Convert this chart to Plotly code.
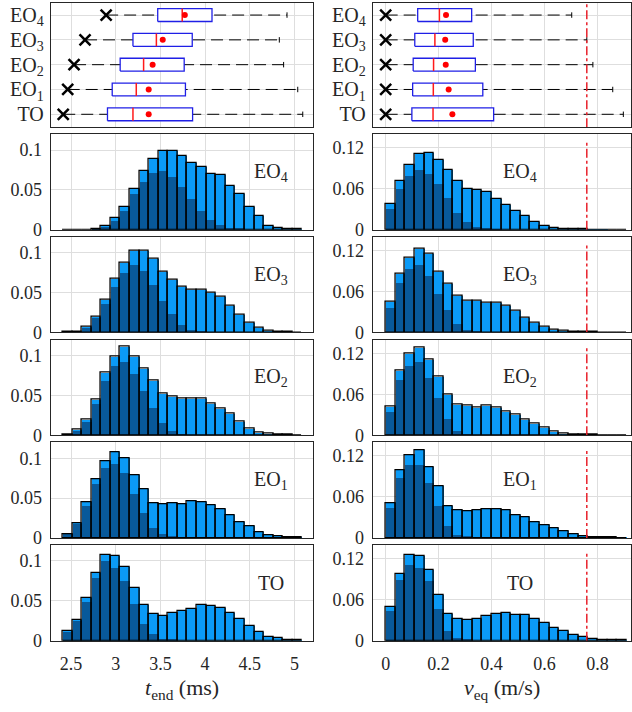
import numpy as np
import plotly.graph_objects as go

# ---------------- data ----------------
group_names = ["TO", "EO<sub>1</sub>", "EO<sub>2</sub>", "EO<sub>3</sub>", "EO<sub>4</sub>"]

# histogram bins (25 bins each)
t_bin_start, t_bin_width = 2.407, 0.1071   # ms
v_bin_start, v_bin_width = 0.0, 0.0364     # m/s

# t_end histograms: total (light) and subset (dark), normalised frequencies
t_total_TO = [0.0119, 0.026, 0.054, 0.085, 0.107, 0.106, 0.092, 0.066, 0.0447, 0.034, 0.031, 0.035, 0.037,
              0.040, 0.0447, 0.0439, 0.0406, 0.035, 0.0275, 0.018, 0.0107, 0.0049, 0.0029, 0.0012, 0.0008]
t_part_TO = [0.011, 0.025, 0.049, 0.079, 0.0996, 0.091, 0.075, 0.046, 0.021, 0.008, 0.0025, 0.001, 0,
             0, 0, 0, 0, 0, 0, 0, 0, 0, 0, 0, 0]
t_total_EO1 = [0.0049, 0.019, 0.0443, 0.073, 0.096, 0.108, 0.100, 0.0785, 0.061, 0.0435, 0.042, 0.044, 0.042,
               0.0455, 0.0447, 0.0407, 0.0358, 0.0285, 0.0195, 0.0146, 0.0069, 0.0037, 0.0015, 0.0005, 0.0003]
t_part_EO1 = [0.004, 0.017, 0.040, 0.067, 0.088, 0.093, 0.081, 0.055, 0.031, 0.012, 0.004, 0.001, 0,
              0, 0, 0, 0, 0, 0, 0, 0, 0, 0, 0, 0]
t_total_EO2 = [0.001, 0.0074, 0.0193, 0.045, 0.078, 0.099, 0.111, 0.099, 0.084, 0.068, 0.052, 0.049, 0.0465,
               0.0465, 0.0465, 0.040, 0.034, 0.0276, 0.0169, 0.0082, 0.0037, 0.0016, 0.0006, 0.0003, 0.0001]
t_part_EO2 = [0.0008, 0.006, 0.0177, 0.040, 0.069, 0.087, 0.093, 0.077, 0.056, 0.035, 0.016, 0.006, 0.002,
              0, 0, 0, 0, 0, 0, 0, 0, 0, 0, 0, 0]
t_total_EO3 = [0.0002, 0.0005, 0.007, 0.020, 0.041, 0.0675, 0.0875, 0.103, 0.103, 0.092, 0.076, 0.066, 0.057,
               0.054, 0.054, 0.050, 0.045, 0.034, 0.022, 0.012, 0.0054, 0.002, 0.0008, 0.0003, 0.0001]
t_part_EO3 = [0.0001, 0.0004, 0.006, 0.018, 0.036, 0.0575, 0.075, 0.085, 0.077, 0.060, 0.040, 0.023, 0.0096,
              0.0038, 0.001, 0, 0, 0, 0, 0, 0, 0, 0, 0, 0]
t_total_EO4 = [0, 0, 0, 0.0002, 0.004, 0.014, 0.028, 0.051, 0.073, 0.089, 0.099, 0.099, 0.092,
               0.083, 0.078, 0.070, 0.068, 0.055, 0.045, 0.028, 0.017, 0.005, 0.0017, 0.0005, 0.0002]
t_part_EO4 = [0, 0, 0, 0.0001, 0.003, 0.011, 0.024, 0.045, 0.060, 0.071, 0.074, 0.066, 0.053,
              0.038, 0.023, 0.012, 0.006, 0.002, 0.001, 0, 0, 0, 0, 0, 0]

# v_eq histograms
v_total_TO = [0.0497, 0.098, 0.1248, 0.1243, 0.1028, 0.0669, 0.0392, 0.0311, 0.0296, 0.032, 0.0359, 0.0392, 0.0406,
              0.0382, 0.0382, 0.0311, 0.0263, 0.0191, 0.0134, 0.0081, 0.0048, 0.0029, 0.001, 0.0005, 0.0003]
v_part_TO = [0.0435, 0.0884, 0.1114, 0.1057, 0.0875, 0.0469, 0.0148, 0.0038, 0.001, 0, 0, 0, 0,
             0, 0, 0, 0, 0, 0, 0, 0, 0, 0, 0, 0]
v_total_EO1 = [0.050, 0.0984, 0.1205, 0.128, 0.104, 0.0754, 0.0466, 0.040, 0.039, 0.040, 0.0413, 0.0413, 0.040,
               0.0331, 0.0298, 0.0235, 0.0187, 0.0134, 0.0091, 0.0048, 0.0029, 0.0014, 0.0008, 0.0004, 0.0002]
v_part_EO1 = [0.0437, 0.0878, 0.106, 0.106, 0.080, 0.0466, 0.0168, 0.0043, 0.0015, 0.0005, 0, 0, 0,
              0, 0, 0, 0, 0, 0, 0, 0, 0, 0, 0, 0]
v_total_EO2 = [0.0426, 0.0944, 0.120, 0.129, 0.111, 0.0856, 0.059, 0.0445, 0.0435, 0.040, 0.043, 0.041, 0.0353,
               0.030, 0.0227, 0.0174, 0.0106, 0.0058, 0.0029, 0.0015, 0.0005, 0.0003, 0.0002, 0.0001, 0]
v_part_EO2 = [0.0344, 0.0813, 0.1026, 0.1074, 0.0847, 0.0556, 0.0242, 0.0073, 0.0024, 0.0008, 0, 0, 0,
              0, 0, 0, 0, 0, 0, 0, 0, 0, 0, 0, 0]
v_total_EO3 = [0.0454, 0.0863, 0.1088, 0.122, 0.1146, 0.0893, 0.0717, 0.0537, 0.0463, 0.0463, 0.0439, 0.0439, 0.039,
               0.0317, 0.022, 0.0146, 0.0088, 0.0044, 0.002, 0.001, 0.0005, 0.0003, 0.0002, 0.0001, 0]
v_part_EO3 = [0.0366, 0.0732, 0.0927, 0.0995, 0.083, 0.057, 0.0327, 0.0122, 0.004, 0.0015, 0.0005, 0, 0,
              0, 0, 0, 0, 0, 0, 0, 0, 0, 0, 0, 0]
v_total_EO4 = [0.0376, 0.0712, 0.095, 0.1107, 0.1122, 0.102, 0.0878, 0.0712, 0.059, 0.0576, 0.0546, 0.0454, 0.0361,
               0.0278, 0.0195, 0.0117, 0.0054, 0.0024, 0.001, 0.0005, 0.0003, 0.0002, 0.0001, 0, 0]
v_part_EO4 = [0.0298, 0.060, 0.078, 0.0878, 0.0815, 0.0668, 0.0468, 0.0249, 0.0107, 0.004, 0.0015, 0.0005, 0,
              0, 0, 0, 0, 0, 0, 0, 0, 0, 0, 0, 0]

# box statistics, order: TO, EO1, EO2, EO3, EO4
t_min = [2.413, 2.463, 2.534, 2.657, 2.893]
t_q1 = [2.908, 2.961, 3.050, 3.193, 3.470]
t_med = [3.193, 3.230, 3.312, 3.455, 3.744]
t_mean = [3.369, 3.369, 3.413, 3.526, 3.773]
t_q3 = [3.860, 3.780, 3.766, 3.856, 4.077]
t_max = [5.092, 5.036, 4.878, 4.830, 4.916]

v_min = [0.0, 0.0, 0.0, 0.0, 0.0]
v_q1 = [0.099, 0.102, 0.104, 0.110, 0.121]
v_med = [0.179, 0.180, 0.181, 0.186, 0.203]
v_mean = [0.252, 0.238, 0.227, 0.225, 0.228]
v_q3 = [0.408, 0.367, 0.339, 0.331, 0.325]
v_max = [0.898, 0.858, 0.783, 0.760, 0.703]

v_limit = 0.76   # m/s, dash-dot reference line

t_ticks = [2.5, 3, 3.5, 4, 4.5, 5]
t_ticktext = ["2.5", "3", "3.5", "4", "4.5", "5"]
v_ticks = [0, 0.2, 0.4, 0.6, 0.8]
v_ticktext = ["0", "0.2", "0.4", "0.6", "0.8"]
t_yticks = [0, 0.05, 0.1]
t_yticktext = ["0", "0.05", "0.1"]
v_yticks = [0, 0.06, 0.12]
v_yticktext = ["0", "0.06", "0.12"]

t_hist = {"TO": (t_total_TO, t_part_TO), "EO1": (t_total_EO1, t_part_EO1), "EO2": (t_total_EO2, t_part_EO2),
          "EO3": (t_total_EO3, t_part_EO3), "EO4": (t_total_EO4, t_part_EO4)}
v_hist = {"TO": (v_total_TO, v_part_TO), "EO1": (v_total_EO1, v_part_EO1), "EO2": (v_total_EO2, v_part_EO2),
          "EO3": (v_total_EO3, v_part_EO3), "EO4": (v_total_EO4, v_part_EO4)}
hist_rows = ["EO4", "EO3", "EO2", "EO1", "TO"]
hist_row_labels = {"TO": "TO", "EO1": "EO<sub>1</sub>", "EO2": "EO<sub>2</sub>",
                   "EO3": "EO<sub>3</sub>", "EO4": "EO<sub>4</sub>"}

# ---------------- layout geometry ----------------
W, H = 632, 712
FONT = "Liberation Serif"
TXT = "#262626"
LIGHT = "#0B9AF6"
DARK = "#08599A"
GRID = "#dedede"
TICK_SIZE = 18

col_px = [(50.7, 313.3), (372.7, 631.0)]
row_px = [(2.7, 129.0)] + [(136.0 + k * 104.2, 136.0 + k * 104.2 + 97.0) for k in range(5)]
x_ranges = [[2.273, 5.21], [-0.049, 0.927]]
y_hist_ranges = [[0, 0.12], [0, 0.14]]


def names(n):
    s = "" if n == 1 else str(n)
    return "xaxis" + s, "yaxis" + s, "x" + s, "y" + s


fig = go.Figure()
layout = dict(width=W, height=H, margin=dict(l=0, r=0, t=0, b=0), paper_bgcolor="white",
              plot_bgcolor="white", showlegend=False, barmode="overlay", bargap=0,
              font=dict(family=FONT, color=TXT, size=TICK_SIZE))
annotations = []


def axis_style(font_size):
    return dict(showline=True, mirror=True, linecolor="#262626", linewidth=1, showgrid=True,
                gridcolor=GRID, gridwidth=1, zeroline=False, ticks="", fixedrange=True,
                tickfont=dict(family=FONT, size=font_size, color=TXT))


for r in range(6):
    for c in range(2):
        n = r * 2 + c + 1
        xa, ya, xr, yr = names(n)
        x0, x1 = col_px[c]
        y0, y1 = row_px[r]
        xdict = axis_style(TICK_SIZE)
        xdict.update(domain=[x0 / W, x1 / W], anchor=yr, range=x_ranges[c],
                     tickvals=t_ticks if c == 0 else v_ticks,
                     ticktext=t_ticktext if c == 0 else v_ticktext,
                     showticklabels=(r == 5), ticklabelstandoff=7)
        if r == 0:
            ydict = axis_style(20)
            ydict.update(domain=[1 - y1 / H, 1 - y0 / H], anchor=xr, range=[0.48, 5.5],
                         tickvals=[1, 2, 3, 4, 5], ticktext=group_names, ticklabelstandoff=2)
        else:
            ydict = axis_style(TICK_SIZE)
            ydict.update(domain=[1 - y1 / H, 1 - y0 / H], anchor=xr,
                         range=y_hist_ranges[c], ticklabelstandoff=4,
                         tickvals=t_yticks if c == 0 else v_yticks,
                         ticktext=t_yticktext if c == 0 else v_yticktext)
        layout[xa] = xdict
        layout[ya] = ydict

# ---------------- box rows ----------------
box_h, cap_h = 0.26, 0.11
for c, (mn, q1, md, mu, q3, mx) in enumerate([(t_min, t_q1, t_med, t_mean, t_q3, t_max),
                                               (v_min, v_q1, v_med, v_mean, v_q3, v_max)]):
    xr, yr = names(c + 1)[2:]
    wx, wy, cx, cy, mdx, mdy = [], [], [], [], [], []
    for i in range(5):
        y = i + 1
        wx += [mn[i], mx[i], None]
        wy += [y, y, None]
        cx += [mx[i], mx[i], None]
        cy += [y - cap_h, y + cap_h, None]
        mdx += [md[i], md[i], None]
        mdy += [y - box_h, y + box_h, None]
    fig.add_trace(go.Scatter(x=wx, y=wy, mode="lines", xaxis=xr, yaxis=yr,
                             line=dict(color="black", width=1, dash="12px,6px"), hoverinfo="skip"))
    fig.add_trace(go.Scatter(x=cx, y=cy, mode="lines", xaxis=xr, yaxis=yr,
                             line=dict(color="black", width=1), hoverinfo="skip"))
    for i in range(5):
        y = i + 1
        fig.add_trace(go.Scatter(x=[q1[i], q3[i], q3[i], q1[i], q1[i]],
                                 y=[y - box_h, y - box_h, y + box_h, y + box_h, y - box_h],
                                 mode="lines", fill="toself", fillcolor="white", xaxis=xr, yaxis=yr,
                                 line=dict(color="#1f1fe6", width=1.3), hoverinfo="skip"))
    fig.add_trace(go.Scatter(x=mdx, y=mdy, mode="lines", xaxis=xr, yaxis=yr,
                             line=dict(color="#ff1a1a", width=1.5), hoverinfo="skip"))
    fig.add_trace(go.Scatter(x=mu, y=[1, 2, 3, 4, 5], mode="markers", xaxis=xr, yaxis=yr,
                             marker=dict(color="#ff0000", size=6, symbol="circle"), hoverinfo="skip"))
    fig.add_trace(go.Scatter(x=mn, y=[1, 2, 3, 4, 5], mode="markers", xaxis=xr, yaxis=yr,
                             marker=dict(symbol="x-thin", size=11, line=dict(color="black", width=2.5)),
                             hoverinfo="skip", cliponaxis=False))
    if c == 1:
        fig.add_trace(go.Scatter(x=[v_limit, v_limit], y=[0.48, 5.5], mode="lines", xaxis=xr, yaxis=yr,
                                 line=dict(color="#e8202a", width=1.5, dash="dashdot"), hoverinfo="skip"))

# ---------------- histogram rows ----------------
t_centers = t_bin_start + t_bin_width * (np.arange(25) + 0.5)
v_centers = v_bin_start + v_bin_width * (np.arange(25) + 0.5)

for r, g in enumerate(hist_rows, start=1):
    for c in range(2):
        n = r * 2 + c + 1
        xa, ya, xr, yr = names(n)
        total, part = (t_hist if c == 0 else v_hist)[g]
        centers = t_centers if c == 0 else v_centers
        width = t_bin_width if c == 0 else v_bin_width
        fig.add_trace(go.Bar(x=centers, y=total, width=width, xaxis=xr, yaxis=yr,
                             marker=dict(color=LIGHT, line=dict(width=0)), hoverinfo="skip"))
        fig.add_trace(go.Bar(x=centers, y=part, width=width, xaxis=xr, yaxis=yr,
                             marker=dict(color=DARK, line=dict(width=0)), hoverinfo="skip"))
        fig.add_trace(go.Bar(x=centers, y=total, width=width, xaxis=xr, yaxis=yr,
                             marker=dict(color="rgba(0,0,0,0)", line=dict(color="black", width=1.3)),
                             hoverinfo="skip"))
        if c == 1:
            fig.add_trace(go.Scatter(x=[v_limit, v_limit], y=[0, 0.13], mode="lines", xaxis=xr, yaxis=yr,
                                     line=dict(color="#e8202a", width=1.5, dash="dashdot"), hoverinfo="skip"))
        annotations.append(dict(text=hist_row_labels[g], xref=xr + " domain", yref=yr + " domain",
                                x=0.839 if c == 0 else 0.570, y=0.6, xanchor="center", yanchor="middle",
                                showarrow=False, font=dict(family=FONT, size=20, color=TXT)))

# axis titles
annotations.append(dict(text="<i>t</i><sub>end</sub> (ms)", xref="paper", yref="paper",
                        x=(col_px[0][0] + col_px[0][1]) / 2 / W, y=1 - 699 / H,
                        xanchor="center", yanchor="middle", showarrow=False,
                        font=dict(family=FONT, size=22, color=TXT)))
annotations.append(dict(text="<i>v</i><sub>eq</sub> (m/s)", xref="paper", yref="paper",
                        x=(col_px[1][0] + col_px[1][1]) / 2 / W, y=1 - 699 / H,
                        xanchor="center", yanchor="middle", showarrow=False,
                        font=dict(family=FONT, size=22, color=TXT)))

layout["annotations"] = annotations
fig.update_layout(**layout)
fig.write_html("out.html")
